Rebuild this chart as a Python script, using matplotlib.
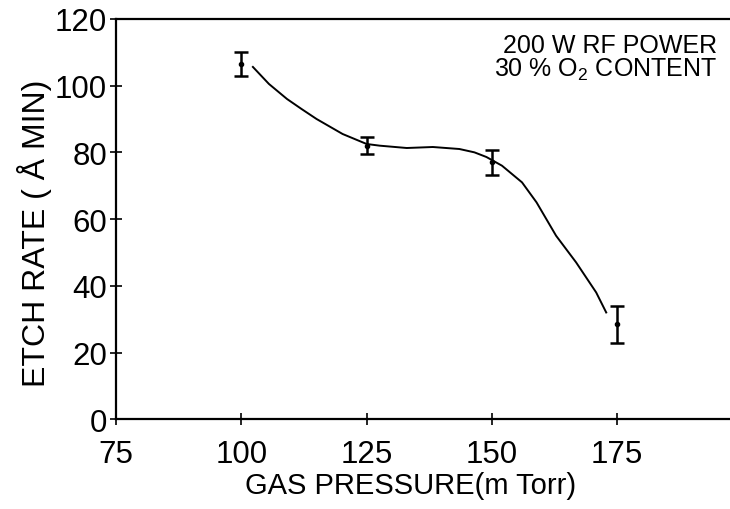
import matplotlib
matplotlib.use("Agg")
import matplotlib.pyplot as plt

# measured points with error bars
pressure = [100, 125, 150, 175]
etch_rate = [106.5, 82, 77, 28.5]
err = [3.5, 2.5, 3.7, 5.5]

# hand-drawn smooth curve
curve_x = [102.3, 105.5, 109.1, 112.0, 115.0, 120.2, 125.0, 127.6, 133.0, 138.2,
           143.5, 146.5, 148.9, 152.0, 156.0, 158.9, 162.8, 166.8, 170.8, 172.8]
curve_y = [105.6, 100.5, 96.0, 93.0, 90.0, 85.5, 82.5, 82.0, 81.3, 81.6,
           81.0, 80.0, 78.6, 76.0, 71.0, 65.0, 55.0, 47.0, 38.0, 32.0]

xticks = [75, 100, 125, 150, 175]
yticks = [0, 20, 40, 60, 80, 100, 120]

plt.rcParams["font.family"] = ["Liberation Sans", "DejaVu Sans"]
plt.rcParams["mathtext.fontset"] = "custom"
plt.rcParams["mathtext.rm"] = "Liberation Sans"
plt.rcParams["mathtext.it"] = "Liberation Sans"

fig = plt.figure(figsize=(7.3, 5.1), dpi=100)
ax = fig.add_axes([0.159, 0.176, 0.841, 0.785])

ax.plot(curve_x, curve_y, color="black", lw=1.4)
ax.errorbar(pressure, etch_rate, yerr=err, fmt="o", ms=3, color="black",
            ecolor="black", elinewidth=1.8, capsize=5, capthick=1.8)

ax.set_xlim(75, 197.5)
ax.set_ylim(0, 120)
ax.set_xticks(xticks)
ax.set_yticks(yticks)
ax.tick_params(direction="inout", length=9, width=1.2, labelsize=22.5, pad=2)
ax.tick_params(axis="x", length=8, pad=10)

for s in ["left", "bottom", "top"]:
    ax.spines[s].set_linewidth(1.6)
ax.spines["right"].set_visible(False)

ax.set_xlabel("GAS PRESSURE(m Torr)", fontsize=21)
ax.xaxis.set_label_coords(0.48, -0.13)
ax.set_ylabel("ETCH RATE ( Å MIN)", fontsize=23)
ax.yaxis.set_label_coords(-0.105, 0.4675)

ax.text(0.979, 0.965, "200 W RF POWER\n30 % O$_2$ CONTENT", transform=ax.transAxes,
        ha="right", va="top", multialignment="right", linespacing=0.95,
        fontsize=18)

fig.savefig("out.png", dpi=100)
